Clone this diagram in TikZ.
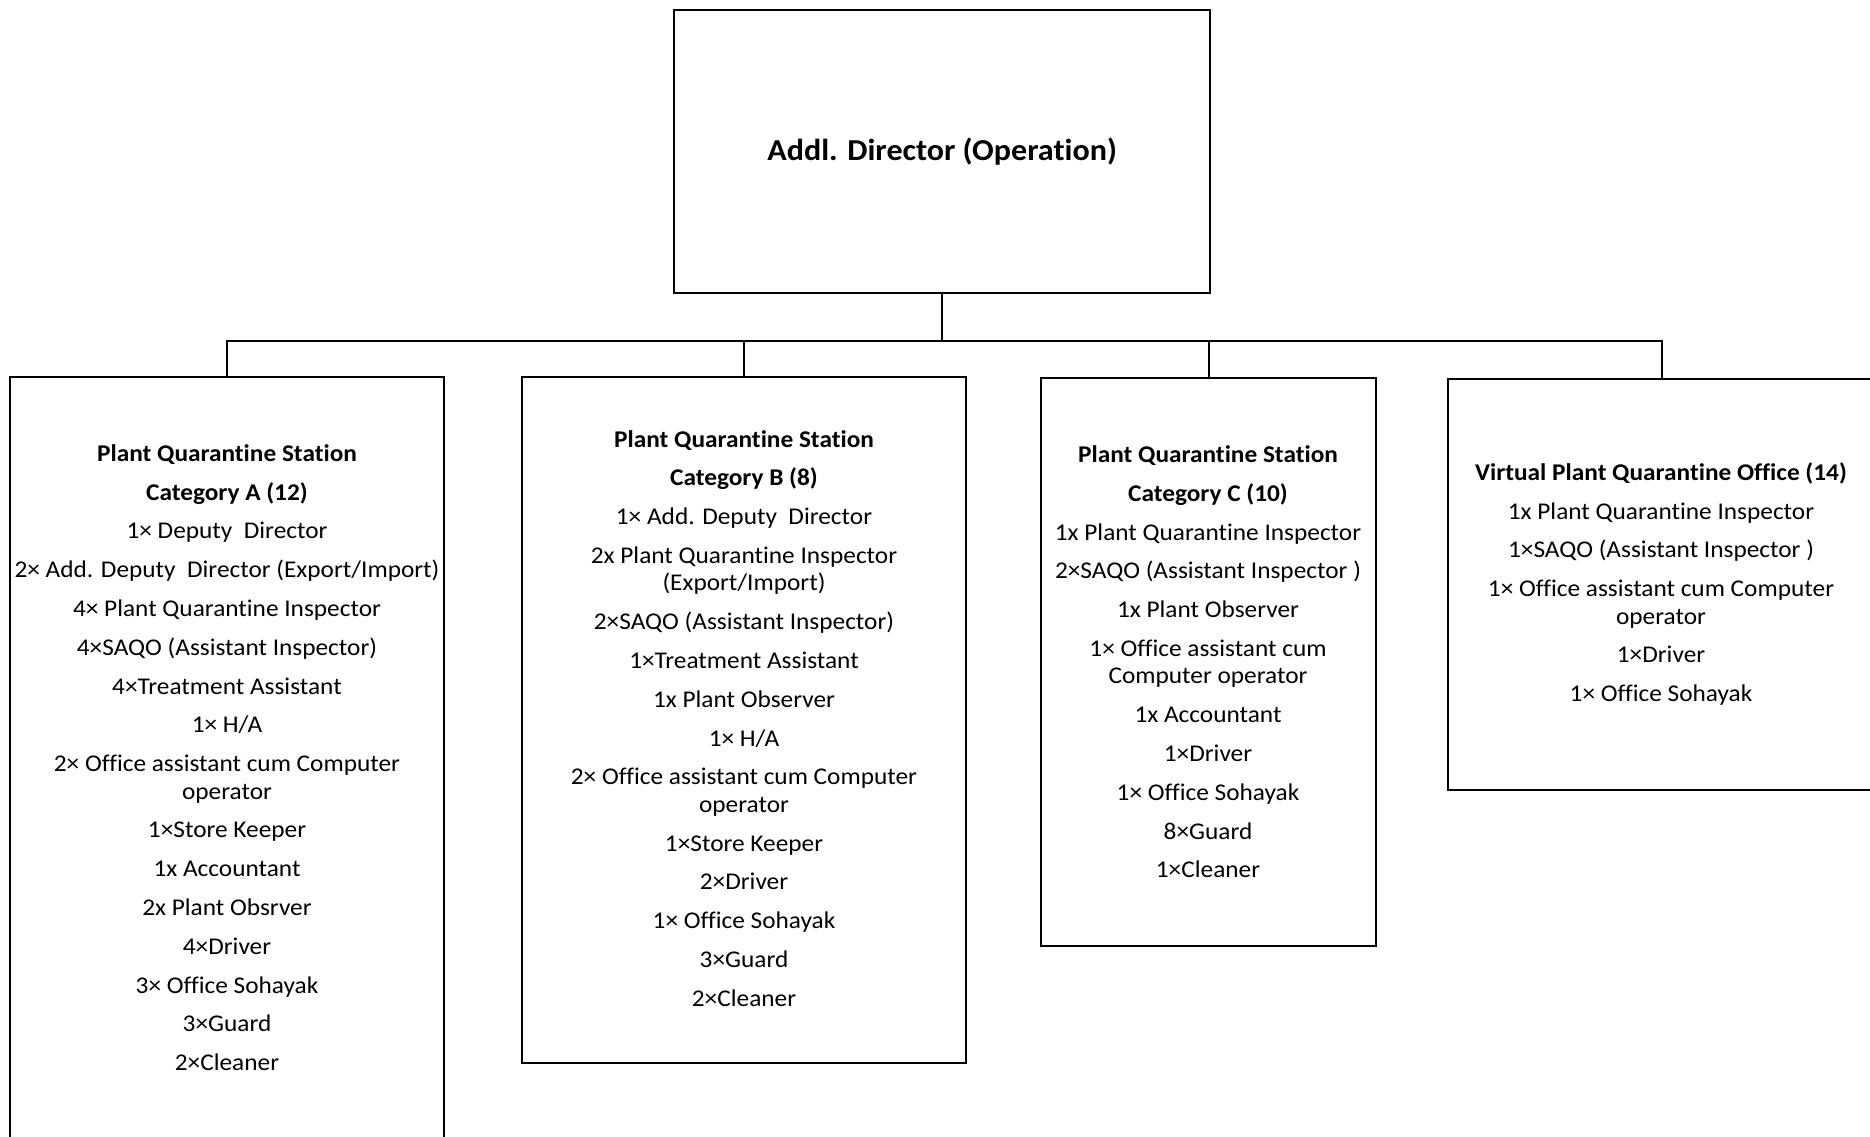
\documentclass[tikz,border=0pt]{standalone}
\usepackage{fontspec}
\setmainfont{Carlito}[Ligatures={NoCommon},FakeStretch=1.055]
\begin{document}
\begin{tikzpicture}[x=1pt,y=-1pt,
  box/.style={draw=black,line width=2.3pt,fill=none,inner sep=0pt,anchor=north west},
  txt/.style={align=center,inner sep=0pt,anchor=north,font=\fontsize{24}{27.4}\selectfont},
  conn/.style={draw=black,line width=2.2pt}]
\useasboundingbox (0,0) rectangle (1870,1136);
\clip (0,0) rectangle (1870,1136);
% top box
\node[box,minimum width=536,minimum height=283,font=\fontsize{30.4}{36}\selectfont\bfseries] (top) at (673,9) {Addl. Director (Operation)};
% station boxes
\node[box,minimum width=434,minimum height=800] (A) at (9,376) {};
\node[box,minimum width=444,minimum height=686] (B) at (521,376) {};
\node[box,minimum width=335,minimum height=568] (C) at (1040,377) {};
\node[box,minimum width=427,minimum height=411] (D) at (1447,378) {};
% connectors
\coordinate (j) at (top.south |- 0,341);
\draw[conn] (top.south) -- (j);
\draw[conn] (j) -| (A.north);
\draw[conn] (j) -| (B.north);
\draw[conn] (j) -| (C.north);
\draw[conn] (j) -| (D.north);
% texts
\node[txt] (Atext) at (227,442) {\strut\textbf{Plant Quarantine Station}\\[11.4pt]
\textbf{Category A (12)}\\[11.4pt]
1× Deputy~ Director\\[11.4pt]
2× Add. Deputy~ Director (Export/Import)\\[11.4pt]
4× Plant Quarantine Inspector\\[11.4pt]
4×SAQO (Assistant Inspector)\\[11.4pt]
4×Treatment Assistant\\[11.4pt]
1× H/A\\[11.4pt]
2× Office assistant cum Computer\\
operator\\[11.4pt]
1×Store Keeper\\[11.4pt]
1x Accountant\\[11.4pt]
2x Plant Obsrver\\[11.4pt]
4×Driver\\[11.4pt]
3× Office Sohayak\\[11.4pt]
3×Guard\\[11.4pt]
2×Cleaner};
\node[txt] (Btext) at (744,427.7) {\strut\textbf{Plant Quarantine Station}\\[11.4pt]
\textbf{Category B (8)}\\[11.4pt]
1× Add. Deputy~ Director\\[11.4pt]
2x Plant Quarantine Inspector\\
(Export/Import)\\[11.4pt]
2×SAQO (Assistant Inspector)\\[11.4pt]
1×Treatment Assistant\\[11.4pt]
1x Plant Observer\\[11.4pt]
1× H/A\\[11.4pt]
2× Office assistant cum Computer\\
operator\\[11.4pt]
1×Store Keeper\\[11.4pt]
2×Driver\\[11.4pt]
1× Office Sohayak\\[11.4pt]
3×Guard\\[11.4pt]
2×Cleaner};
\node[txt] (Ctext) at (1208,443.2) {\strut\textbf{Plant Quarantine Station}\\[11.4pt]
\textbf{Category C (10)}\\[11.4pt]
1x Plant Quarantine Inspector\\[11.4pt]
2×SAQO (Assistant Inspector )\\[11.4pt]
1x Plant Observer\\[11.4pt]
1× Office assistant cum\\
Computer operator\\[11.4pt]
1x Accountant\\[11.4pt]
1×Driver\\[11.4pt]
1× Office Sohayak\\[11.4pt]
8×Guard\\[11.4pt]
1×Cleaner};
\node[txt] (Dtext) at (1661,461) {\strut\textbf{Virtual Plant Quarantine Office (14)}\\[11.4pt]
1x Plant Quarantine Inspector\\[11.4pt]
1×SAQO (Assistant Inspector )\\[11.4pt]
1× Office assistant cum Computer\\
operator\\[11.4pt]
1×Driver\\[11.4pt]
1× Office Sohayak};
\end{tikzpicture}
\end{document}
